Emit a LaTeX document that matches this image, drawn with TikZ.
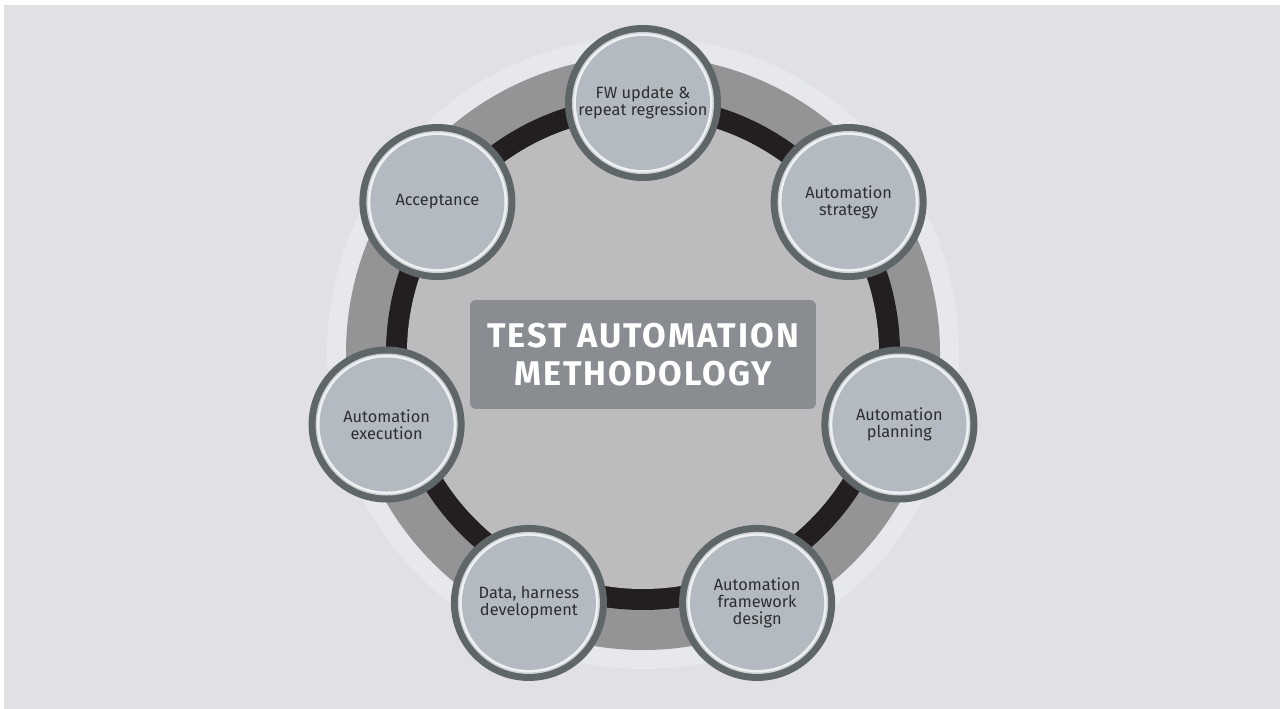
\documentclass[tikz,border=0pt]{standalone}
\usepackage{fontspec}
\setmainfont{Fira Sans}
\newfontfamily\headfont{Fira Sans}[LetterSpace=6]
\definecolor{bggray}{HTML}{E0E0E5}
\definecolor{palering}{HTML}{E6E8EC}
\definecolor{midring}{HTML}{949497}
\definecolor{darkring}{HTML}{231F20}
\definecolor{innerdisc}{HTML}{BCBCBF}
\definecolor{stagefill}{HTML}{B4BAC2}
\definecolor{stageedge}{HTML}{5E6668}
\definecolor{stagelight}{HTML}{CDD1D5}
\definecolor{stagewhite}{HTML}{EEF0F2}
\definecolor{titlefill}{HTML}{898D92}
\definecolor{labeltext}{HTML}{2E2E30}
\begin{document}
\begin{tikzpicture}[x=0.02cm,y=0.02cm,
		stage/.style={align=center,text=labeltext,font=\fontsize{9.3}{9.8}\selectfont},
		headbox/.style={fill=titlefill,rounded corners=3.4pt,minimum width=6.92cm,minimum height=2.18cm,text=white,align=center,font=\headfont\bfseries\fontsize{19.5}{21.5}\selectfont}]
	\useasboundingbox (0,0) rectangle (1280,709);
	\fill[white] (0,0) rectangle (1280,709);
	\fill[bggray] (4,0) rectangle (1280,704);
	\fill[palering] (643,356) circle(316);
	\fill[midring] (643,356) circle(297);
	\fill[darkring] (643,356) circle(257);
	\fill[innerdisc] (643,356) circle(236);
	\node[headbox] (title) at (643,354.5) {TEST AUTOMATION\\METHODOLOGY};
	\begin{scope}[shift={(643,343)}]
		\foreach \i/\txt in {0/{FW update \&\\repeat regression},1/{Automation\\strategy},2/{Automation\\planning},3/{Automation\\framework\\design},4/{Data, harness\\development},5/{Automation\\execution},6/{Acceptance}}{
			\fill[stageedge] ({90-\i*360/7}:263) circle(78);
			\fill[stagelight] ({90-\i*360/7}:263) circle(71);
			\fill[stagewhite] ({90-\i*360/7}:263) circle(69.5);
			\fill[stagefill] ({90-\i*360/7}:263) circle(67);
			\node[stage] (stage\i) at ({90-\i*360/7}:263) {\txt};
		}
	\end{scope}
\end{tikzpicture}
\end{document}
